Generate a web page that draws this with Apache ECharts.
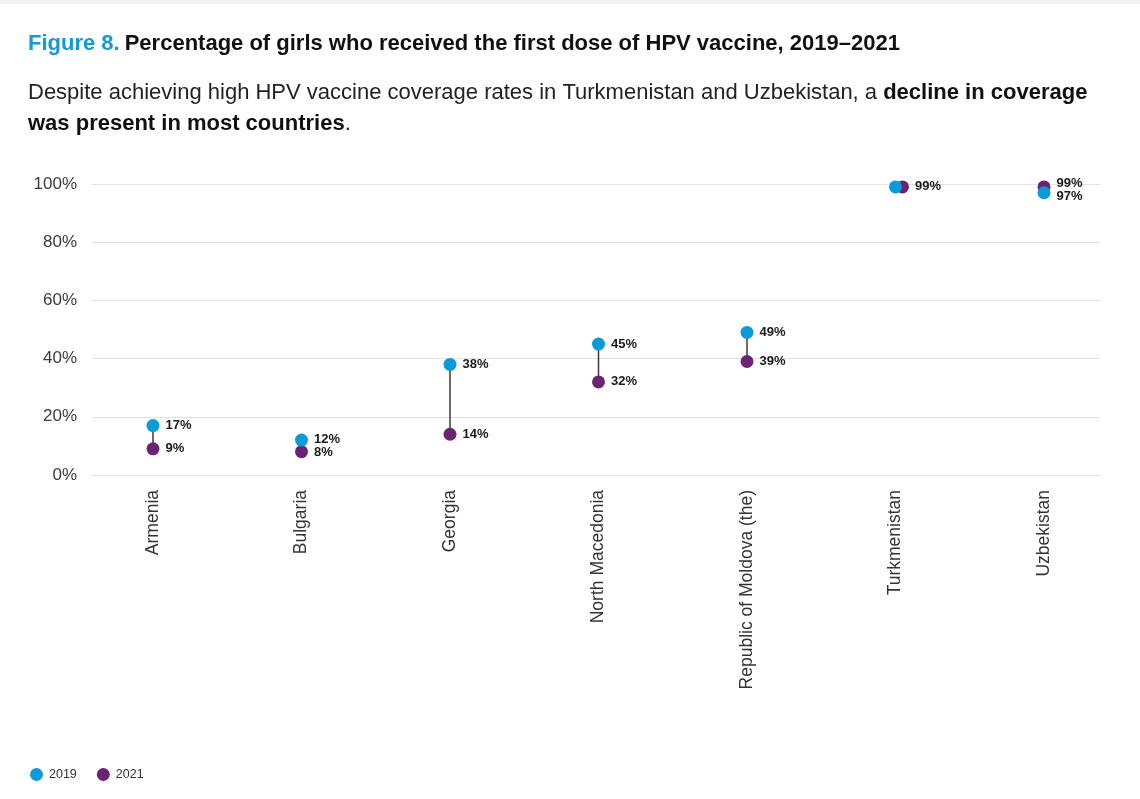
<!DOCTYPE html>
<html>
<head>
<meta charset="utf-8">
<script src="https://cdn.jsdelivr.net/npm/echarts@6/dist/echarts.min.js"></script>
<style>
  html, body { margin: 0; padding: 0; background: #fff; }
  #main { width: 1140px; height: 799px; }
</style>
</head>
<body>
<div id="main"></div>
<script>
var countries = ['Armenia', 'Bulgaria', 'Georgia', 'North Macedonia', 'Republic of Moldova (the)', 'Turkmenistan', 'Uzbekistan'];
var values2019 = [17, 12, 38, 45, 49, 99, 97];
var values2021 = [9, 8, 14, 32, 39, 99, 99];
var yTicks = [0, 20, 40, 60, 80, 100];

var blue = '#0b9bd8';
var purple = '#6b2473';

var dom = document.getElementById('main');
var myChart = echarts.init(dom);

// plot is 291px tall for 100%, labels need ~13px between them
var pxPerPct = 2.91;
var labelGap = 13;

// same value: one label, nudge the 2021 dot; close values: push labels apart
function buildData(own, other, isLater) {
    return own.map(function (v, i) {
        var item = { value: [i, v] };
        var d = v - other[i];
        if (d === 0) {
            if (isLater) item.symbolOffset = [7, 0];
            else item.label = { show: false };
        } else {
            var push = (labelGap - Math.abs(d) * pxPerPct) / 2;
            if (push > 0) item.label = { offset: [0, d > 0 ? -push : push] };
        }
        return item;
    });
}
var data2019 = buildData(values2019, values2021, false);
var data2021 = buildData(values2021, values2019, true);
var links = countries.map(function (c, i) {
    return [i, values2019[i], values2021[i]];
});

var labelStyle = {
    show: true,
    position: 'right',
    distance: 6,
    formatter: function (p) { return p.value[1] + '%'; },
    color: '#1a1a1a',
    fontSize: 13,
    fontWeight: 'bold'
};

var option = {
    backgroundColor: '#fff',
    textStyle: { fontFamily: 'Liberation Sans, Arial, sans-serif' },
    title: [{
        left: 28,
        top: 33,
        padding: 0,
        text: '{a|Figure 8.} {b|Percentage of girls who received the first dose of HPV vaccine, 2019\u20132021}',
        textStyle: {
            rich: {
                a: { color: '#159ad6', fontSize: 22, fontWeight: 'bold' },
                b: { color: '#111', fontSize: 22, fontWeight: 'bold' }
            }
        }
    }, {
        left: 28,
        top: 77,
        padding: 0,
        text: '{n|Despite achieving high HPV vaccine coverage rates in Turkmenistan and Uzbekistan, a }{b|decline in coverage}\n{b|was present in most countries}{n|.}',
        textStyle: {
            fontWeight: 'normal',
            rich: {
                n: { color: '#222', fontSize: 22, fontWeight: 'normal', lineHeight: 31 },
                b: { color: '#111', fontSize: 22, fontWeight: 'bold', lineHeight: 31 }
            }
        }
    }],
    graphic: [{
        type: 'rect',
        shape: { x: 0, y: 0, width: 1140, height: 4 },
        style: { fill: '#f2f2f2' }
    }],
    legend: {
        left: 25,
        bottom: 13,
        icon: 'circle',
        itemWidth: 13,
        itemHeight: 13,
        itemGap: 20,
        textStyle: { color: '#333', fontSize: 12.5, padding: [0, 0, 0, 1] },
        data: ['2019', '2021']
    },
    grid: [
        { left: 92, right: 40, top: 184, bottom: 324 },
        { left: 78.75, right: 21.75, top: 184, bottom: 324 }
    ],
    xAxis: [{
        gridIndex: 0,
        type: 'value',
        show: false
    }, {
        gridIndex: 1,
        type: 'category',
        data: countries,
        boundaryGap: true,
        axisLine: { show: false },
        axisTick: { show: false },
        splitLine: { show: false },
        axisLabel: {
            rotate: 90,
            margin: 15,
            color: '#333',
            fontSize: 17.5,
            interval: 0
        }
    }],
    yAxis: [{
        gridIndex: 0,
        type: 'value',
        min: 0,
        max: 100,
        interval: 20,
        axisLine: { show: false },
        axisTick: { show: false },
        splitLine: { lineStyle: { color: '#e3e3e3', width: 1.2 } },
        axisLabel: {
            margin: 15,
            color: '#3a3a3a',
            fontSize: 17,
            formatter: function (v) { return yTicks.indexOf(v) >= 0 ? v + '%' : ''; }
        }
    }, {
        gridIndex: 1,
        type: 'value',
        min: 0,
        max: 100,
        show: false
    }],
    series: [{
        type: 'custom',
        xAxisIndex: 1,
        yAxisIndex: 1,
        silent: true,
        z: 1,
        data: links,
        renderItem: function (params, api) {
            var p1 = api.coord([api.value(0), api.value(1)]);
            var p2 = api.coord([api.value(0), api.value(2)]);
            return {
                type: 'line',
                shape: { x1: p1[0], y1: p1[1], x2: p2[0], y2: p2[1] },
                style: { stroke: '#3a3a3a', lineWidth: 1.5 }
            };
        }
    }, {
        name: '2021',
        type: 'scatter',
        xAxisIndex: 1,
        yAxisIndex: 1,
        z: 2,
        symbolSize: 13,
        itemStyle: { color: purple, opacity: 1 },
        label: labelStyle,
        data: data2021
    }, {
        name: '2019',
        type: 'scatter',
        xAxisIndex: 1,
        yAxisIndex: 1,
        z: 3,
        symbolSize: 13,
        itemStyle: { color: blue, opacity: 1 },
        label: labelStyle,
        data: data2019
    }]
};

if (option && typeof option === 'object') {
    myChart.setOption(option, true);
}
</script>
</body>
</html>
